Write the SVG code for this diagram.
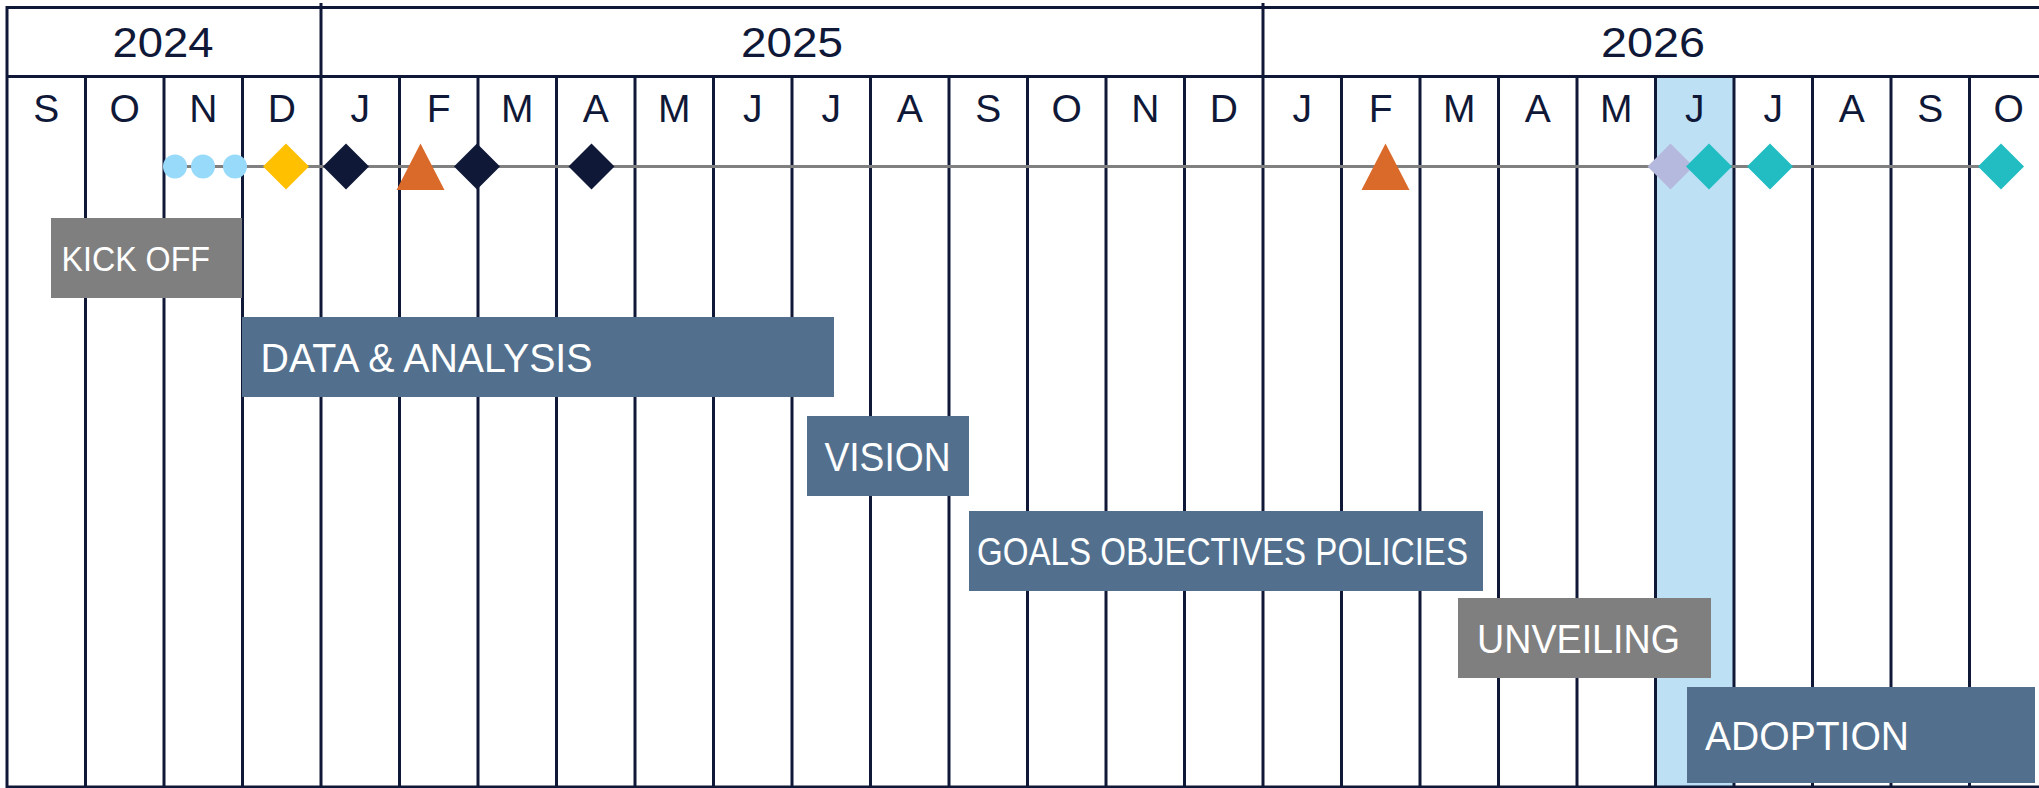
<svg xmlns="http://www.w3.org/2000/svg" width="2039" height="788" viewBox="0 0 2039 788">
<style>
.bg{fill:#ffffff}
.grid{stroke:#101838;stroke-width:3;fill:none}
.hgrid{stroke:#101838;stroke-width:3.2;fill:none}
.yr{font-family:"Liberation Sans",Arial,sans-serif;font-size:42px;fill:#101838;text-anchor:middle}
.mo{font-family:"Liberation Sans",Arial,sans-serif;font-size:39px;fill:#101838;text-anchor:middle}
.lbl{font-family:"Liberation Sans",Arial,sans-serif;font-size:40px;fill:#ffffff}
.gray{fill:#7f7f7f}
.blue{fill:#52708e}
.tl{stroke:#808080;stroke-width:3;fill:none}
</style>
<rect class="bg" x="0" y="0" width="2039" height="788"/>
<g id="highlight">
<rect x="1655.5" y="76" width="78.5" height="712" fill="#bde0f5"/>
</g>
<g id="grid">
<line class="hgrid" x1="7" y1="7.5" x2="2039" y2="7.5"/>
<line class="hgrid" x1="7" y1="76.5" x2="2039" y2="76.5"/>
<line class="hgrid" x1="7" y1="787" x2="2039" y2="787"/>
<line class="grid" x1="7" y1="6" x2="7" y2="788"/>
<line class="grid" x1="85.5" y1="76" x2="85.5" y2="788"/>
<line class="grid" x1="164" y1="76" x2="164" y2="788"/>
<line class="grid" x1="242.5" y1="76" x2="242.5" y2="788"/>
<line class="grid" x1="321" y1="3" x2="321" y2="788"/>
<line class="grid" x1="399.5" y1="76" x2="399.5" y2="788"/>
<line class="grid" x1="478" y1="76" x2="478" y2="788"/>
<line class="grid" x1="556.5" y1="76" x2="556.5" y2="788"/>
<line class="grid" x1="635" y1="76" x2="635" y2="788"/>
<line class="grid" x1="713.5" y1="76" x2="713.5" y2="788"/>
<line class="grid" x1="792" y1="76" x2="792" y2="788"/>
<line class="grid" x1="870.5" y1="76" x2="870.5" y2="788"/>
<line class="grid" x1="949" y1="76" x2="949" y2="788"/>
<line class="grid" x1="1027.5" y1="76" x2="1027.5" y2="788"/>
<line class="grid" x1="1106" y1="76" x2="1106" y2="788"/>
<line class="grid" x1="1184.5" y1="76" x2="1184.5" y2="788"/>
<line class="grid" x1="1263" y1="3" x2="1263" y2="788"/>
<line class="grid" x1="1341.5" y1="76" x2="1341.5" y2="788"/>
<line class="grid" x1="1420" y1="76" x2="1420" y2="788"/>
<line class="grid" x1="1498.5" y1="76" x2="1498.5" y2="788"/>
<line class="grid" x1="1577" y1="76" x2="1577" y2="788"/>
<line class="grid" x1="1655.5" y1="76" x2="1655.5" y2="788"/>
<line class="grid" x1="1734" y1="76" x2="1734" y2="788"/>
<line class="grid" x1="1812.5" y1="76" x2="1812.5" y2="788"/>
<line class="grid" x1="1891" y1="76" x2="1891" y2="788"/>
<line class="grid" x1="1969.5" y1="76" x2="1969.5" y2="788"/>
</g>
<g id="years">
<text class="yr" x="163" y="57" textLength="101" lengthAdjust="spacingAndGlyphs">2024</text>
<text class="yr" x="792" y="57" textLength="102" lengthAdjust="spacingAndGlyphs">2025</text>
<text class="yr" x="1653" y="57" textLength="104" lengthAdjust="spacingAndGlyphs">2026</text>
</g>
<g id="months">
<text class="mo" x="46.25" y="122">S</text>
<text class="mo" x="124.75" y="122">O</text>
<text class="mo" x="203.25" y="122">N</text>
<text class="mo" x="281.75" y="122">D</text>
<text class="mo" x="360.25" y="122">J</text>
<text class="mo" x="438.75" y="122">F</text>
<text class="mo" x="517.25" y="122">M</text>
<text class="mo" x="595.75" y="122">A</text>
<text class="mo" x="674.25" y="122">M</text>
<text class="mo" x="752.75" y="122">J</text>
<text class="mo" x="831.25" y="122">J</text>
<text class="mo" x="909.75" y="122">A</text>
<text class="mo" x="988.25" y="122">S</text>
<text class="mo" x="1066.75" y="122">O</text>
<text class="mo" x="1145.25" y="122">N</text>
<text class="mo" x="1223.75" y="122">D</text>
<text class="mo" x="1302.25" y="122">J</text>
<text class="mo" x="1380.75" y="122">F</text>
<text class="mo" x="1459.25" y="122">M</text>
<text class="mo" x="1537.75" y="122">A</text>
<text class="mo" x="1616.25" y="122">M</text>
<text class="mo" x="1694.75" y="122">J</text>
<text class="mo" x="1773.25" y="122">J</text>
<text class="mo" x="1851.75" y="122">A</text>
<text class="mo" x="1930.25" y="122">S</text>
<text class="mo" x="2008.75" y="122">O</text>
</g>
<g id="connectors">
<line class="tl" x1="163" y1="166.5" x2="2001" y2="166.5"/>
</g>
<g id="milestones">
<circle cx="175" cy="166.5" r="12" fill="#97dafa"/>
<circle cx="203" cy="166.5" r="12" fill="#97dafa"/>
<circle cx="235" cy="166.5" r="12" fill="#97dafa"/>
<polygon points="286,143.5 309,166.5 286,189.5 263,166.5" fill="#ffc000"/>
<polygon points="346,143.5 369,166.5 346,189.5 323,166.5" fill="#101838"/>
<polygon points="420.5,143.5 444.5,190 396.5,190" fill="#da6a29"/>
<polygon points="477,143.5 500,166.5 477,189.5 454,166.5" fill="#101838"/>
<polygon points="591.5,143.5 614.5,166.5 591.5,189.5 568.5,166.5" fill="#101838"/>
<polygon points="1385.5,143.5 1409.5,190 1361.5,190" fill="#da6a29"/>
<polygon points="1670.5,143.5 1693.5,166.5 1670.5,189.5 1647.5,166.5" fill="#b6b9de"/>
<polygon points="1709,143.5 1732,166.5 1709,189.5 1686,166.5" fill="#21bdc2"/>
<polygon points="1770,143.5 1793,166.5 1770,189.5 1747,166.5" fill="#21bdc2"/>
<polygon points="2001,143.5 2024,166.5 2001,189.5 1978,166.5" fill="#21bdc2"/>
</g>
<g id="kickoff">
<rect class="gray" x="51" y="218" width="191" height="80"/>
<text class="lbl" x="61.5" y="271" style="font-size:35px" textLength="148.5" lengthAdjust="spacingAndGlyphs">KICK OFF</text>
</g>
<g id="data-analysis">
<rect class="blue" x="242" y="317" width="592" height="80"/>
<text class="lbl" x="260.5" y="371.5" textLength="332" lengthAdjust="spacingAndGlyphs">DATA &amp; ANALYSIS</text>
</g>
<g id="vision">
<rect class="blue" x="807" y="416" width="162" height="80"/>
<text class="lbl" x="824.5" y="470.5" textLength="126" lengthAdjust="spacingAndGlyphs">VISION</text>
</g>
<g id="goals">
<rect class="blue" x="969" y="511" width="514" height="80"/>
<text class="lbl" x="977" y="564.5" style="font-size:38px" textLength="491" lengthAdjust="spacingAndGlyphs">GOALS OBJECTIVES POLICIES</text>
</g>
<g id="unveiling">
<rect class="gray" x="1458" y="598" width="253" height="80"/>
<text class="lbl" x="1477" y="652.5" textLength="203" lengthAdjust="spacingAndGlyphs">UNVEILING</text>
</g>
<g id="adoption">
<rect class="blue" x="1687" y="687" width="348" height="96"/>
<text class="lbl" x="1705" y="749.5" textLength="204" lengthAdjust="spacingAndGlyphs">ADOPTION</text>
</g>
</svg>
